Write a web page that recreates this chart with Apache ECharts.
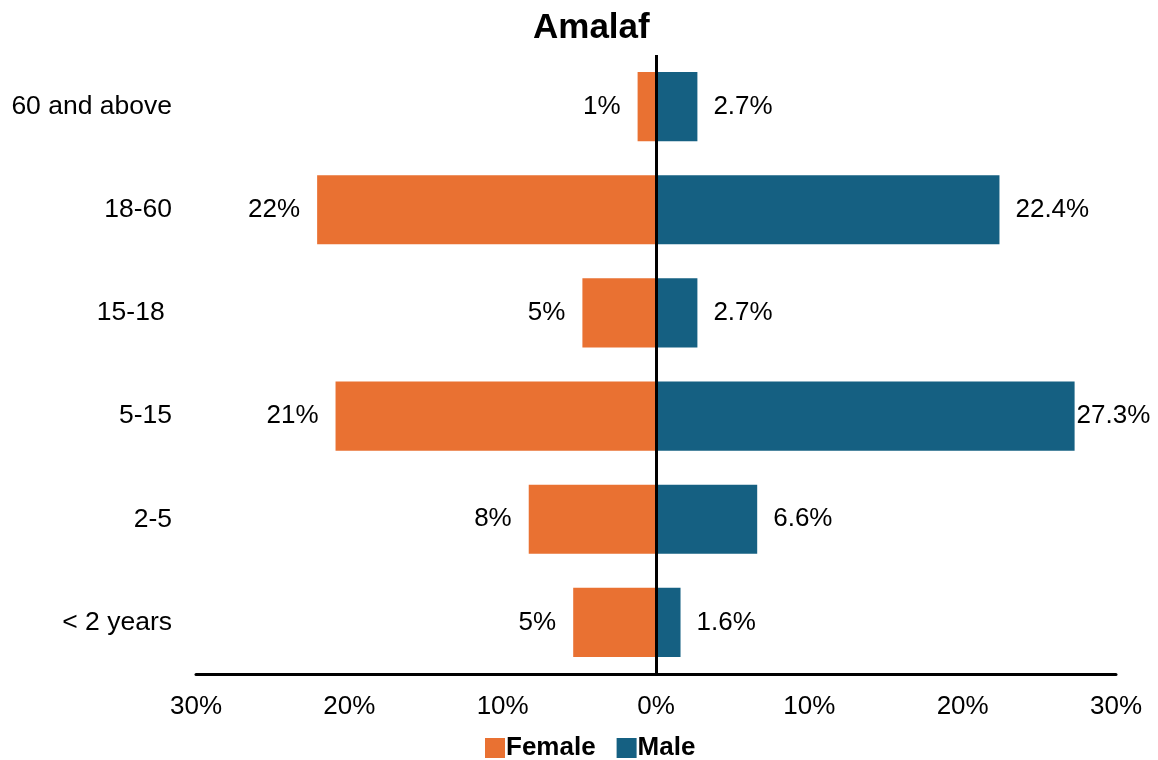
<!DOCTYPE html>
<html>
<head>
<meta charset="utf-8">
<title>Amalaf</title>
<script src="https://cdn.jsdelivr.net/npm/echarts@6/dist/echarts.min.js"></script>
<style>
  html, body { margin: 0; padding: 0; background: #ffffff; }
  #chart { width: 1158px; height: 760px; }
</style>
</head>
<body>
<div id="chart"></div>
<script>
// Age groups, listed bottom to top as the category axis draws them
const ageGroups = ['< 2 years', '2-5', '5-15', '15-18 ', '18-60', '60 and above'];
// Share of population (%) per age group
const femaleShare = [5.4, 8.3, 20.9, 4.8, 22.1, 1.2];
const maleShare = [1.6, 6.6, 27.3, 2.7, 22.4, 2.7];
// Axis ticks (%), drawn as absolute values on both sides of zero
const axisTicks = [-30, -20, -10, 0, 10, 20, 30];

const FONT = '"Liberation Sans", Arial, sans-serif';
const ORANGE = '#E97132';
const BLUE = '#156082';

const chart = echarts.init(document.getElementById('chart'), null, { renderer: 'canvas' });

const option = {
  backgroundColor: '#ffffff',
  animation: false,
  textStyle: { fontFamily: FONT, color: '#000' },
  title: {
    text: 'Amalaf',
    left: 533,
    top: 11,
    padding: 0,
    textStyle: { fontFamily: FONT, fontSize: 35, fontWeight: 'bold', color: '#000' }
  },
  legend: {
    data: ['Female', 'Male'],
    left: 485,
    top: 735,
    padding: 0,
    itemWidth: 20,
    itemHeight: 20,
    itemGap: 21,
    icon: 'rect',
    textStyle: { fontFamily: FONT, fontSize: 26, fontWeight: 'bold', color: '#000', padding: [0, 0, 0, -4] }
  },
  grid: { left: 196, right: 42, top: 55, bottom: 86, containLabel: false },
  xAxis: {
    type: 'value',
    min: axisTicks[0],
    max: axisTicks[axisTicks.length - 1],
    interval: 10,
    axisLine: { show: true, onZero: false, lineStyle: { color: '#000', width: 3 } },
    axisTick: { show: false },
    splitLine: { show: false },
    axisLabel: {
      margin: 20,
      fontFamily: FONT,
      fontSize: 26,
      color: '#000',
      formatter: v => Math.abs(v) + '%'
    }
  },
  yAxis: {
    type: 'category',
    data: ageGroups,
    axisLine: { show: false },
    axisTick: { show: false },
    axisLabel: { margin: 24, fontFamily: FONT, fontSize: 26.5, color: '#000' }
  },
  series: [
    {
      name: 'Female',
      type: 'bar',
      barGap: '-100%',
      barCategoryGap: '33%',
      itemStyle: { color: ORANGE },
      data: femaleShare.map(v => -v),
      label: {
        show: true,
        position: 'left',
        distance: 17,
        fontFamily: FONT,
        fontSize: 26,
        color: '#000',
        formatter: p => Math.round(Math.abs(p.value)) + '%'
      },
      markLine: {
        silent: true,
        symbol: 'none',
        label: { show: false },
        lineStyle: { color: '#000', width: 3, type: 'solid' },
        data: [{ xAxis: 0 }]
      },
      z: 2
    },
    {
      name: 'Male',
      type: 'bar',
      barCategoryGap: '33%',
      itemStyle: { color: BLUE },
      // labels on the longest bars sit tight against the bar end to stay inside the canvas
      data: maleShare.map(v => ({
        value: v,
        label: { distance: v > 25 ? 2 : 16 }
      })),
      label: {
        show: true,
        position: 'right',
        fontFamily: FONT,
        fontSize: 26,
        color: '#000',
        formatter: p => p.value.toFixed(1) + '%'
      },
      z: 2
    }
  ]
};

chart.setOption(option);
</script>
</body>
</html>
